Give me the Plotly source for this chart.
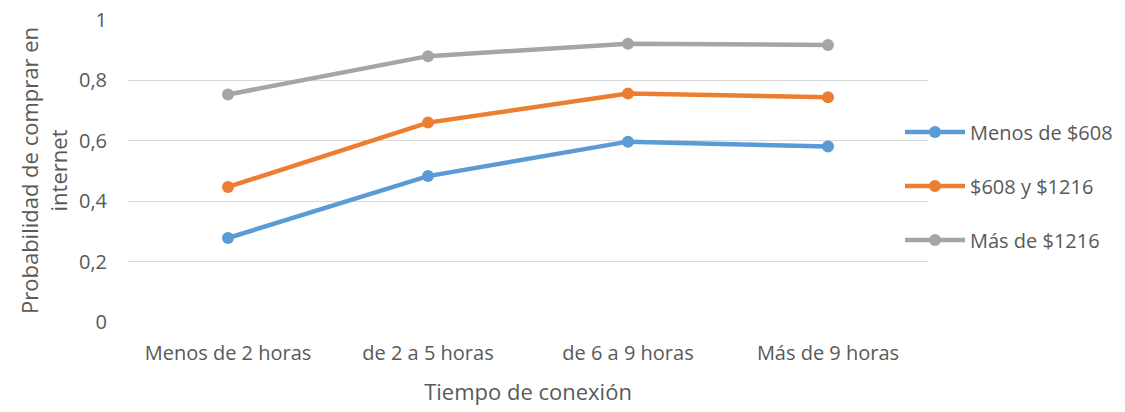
import plotly.graph_objects as go

# Datos
categorias = ["Menos de 2 horas", "de 2 a 5 horas", "de 6 a 9 horas", "Más de 9 horas"]
menos_608 = [0.278, 0.483, 0.597, 0.581]
entre_608_1216 = [0.447, 0.660, 0.756, 0.744]
mas_1216 = [0.753, 0.880, 0.921, 0.917]
nombres = ["Menos de $608", "$608 y $1216", "Más de $1216"]
colores = ["#5B9BD5", "#ED7D31", "#A5A5A5"]
ticks_y = [0, 0.2, 0.4, 0.6, 0.8, 1]
etiquetas_y = ["0", "0,2", "0,4", "0,6", "0,8", "1"]

gris_texto = "#595959"
fuente = "'Open Sans', Lato, sans-serif"

fig = go.Figure()

for i, (nombre, valores) in enumerate(zip(nombres, [menos_608, entre_608_1216, mas_1216])):
    fig.add_trace(go.Scatter(
        x=categorias,
        y=valores,
        mode="lines+markers",
        name=nombre,
        legendgroup=f"g{i}",
        line=dict(color=colores[i], width=4.5),
        marker=dict(color=colores[i], size=12),
    ))

# la página tiene 8px de margen en el body, se compensa aquí
fig.update_layout(
    width=1117,
    height=404,
    paper_bgcolor="white",
    plot_bgcolor="white",
    margin=dict(l=120, r=197, t=11, b=90, autoexpand=False),
    font=dict(family=fuente, color=gris_texto, size=20),
    legend=dict(
        x=0.965,
        xanchor="left",
        y=0.449,
        yanchor="middle",
        itemwidth=60,
        tracegroupgap=25,
        font=dict(size=20, color=gris_texto),
        bgcolor="rgba(0,0,0,0)",
    ),
)

fig.update_xaxes(
    title_text="Tiempo de conexión",
    title_font=dict(size=22),
    title_standoff=19,
    range=[-0.5, 3.5],
    automargin=False,
    showgrid=False,
    showline=False,
    ticks="",
    ticklabelstandoff=17,
)

fig.update_yaxes(
    title_text="Probabilidad de comprar en<br>internet",
    title_font=dict(size=22),
    title_standoff=5,
    range=[0, 1.003],
    automargin=False,
    tickvals=ticks_y,
    ticktext=etiquetas_y,
    ticklabeloverflow="allow",
    showgrid=True,
    gridcolor="#D9D9D9",
    gridwidth=1.2,
    zeroline=False,
    showline=False,
    ticks="",
    ticklabelstandoff=20,
)

fig.write_html("out.html")
